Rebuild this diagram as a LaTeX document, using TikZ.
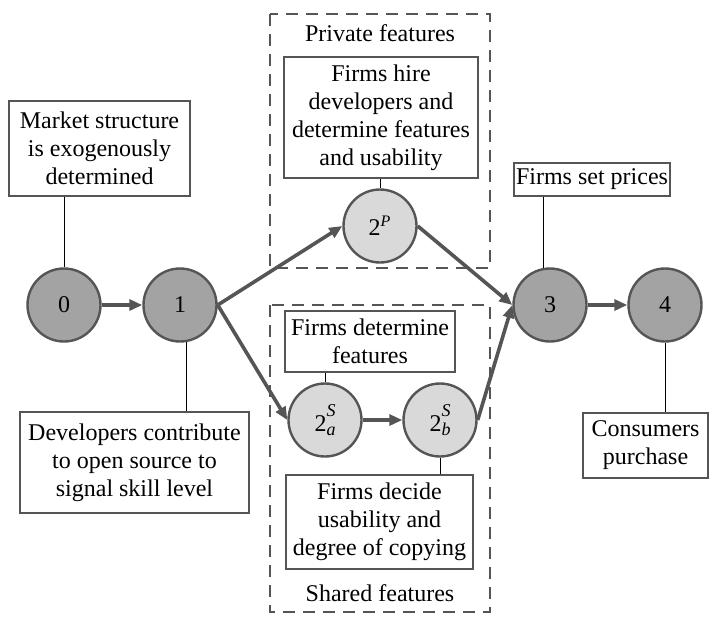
\documentclass[tikz,border=0pt]{standalone}
\usepackage{fontspec}
\setmainfont{Liberation Serif}
\usetikzlibrary{arrows.meta}
\definecolor{stagedark}{RGB}{163,163,163}
\definecolor{stagelight}{RGB}{217,217,217}
\definecolor{rim}{RGB}{85,85,85}
\newcommand{\substep}[2]{2\rlap{\raisebox{7.5pt}{\fontsize{9}{9}\selectfont\textit{#1}}}\raisebox{-2pt}{\fontsize{9}{9}\selectfont\textit{#2}}}
\tikzset{
  stage/.style={circle, draw=rim, line width=1.2pt, fill=stagedark, minimum size=36.5pt, inner sep=0pt},
  substage/.style={stage, fill=stagelight},
  note/.style={draw=rim, line width=0.9pt, fill=white, align=center, inner sep=0pt},
  phase/.style={draw=rim, line width=1pt, dash pattern=on 6pt off 4pt},
  move/.style={draw=rim, line width=1.8pt, -{Triangle[length=6.5pt,width=5.5pt]}},
  tie/.style={draw=black, line width=0.5pt}
}
\begin{document}
\begin{tikzpicture}[x=0.5pt, y=-0.5pt, font=\fontsize{12}{14}\selectfont]
        \useasboundingbox (0,0) rectangle (722,638);
        % phases
        \draw[phase] (270,14) rectangle (490,268);
        \draw[phase] (270,305) rectangle (490,612);
        \node (privlabel) at (380,33) {Private features};
        \node (sharedlabel) at (380,593) {Shared features};
        % stages
        \node[stage] (s0) at (64,305) {0};
        \node[stage] (s1) at (180,305) {1};
        \node[substage] (sp) at (380,226) {2\textsuperscript{\textit{P}}};
        \node[substage] (sa) at (325,420) {\substep{S}{a}};
        \node[substage] (sb) at (440,420) {\substep{S}{b}};
        \node[stage] (s3) at (550,305) {3};
        \node[stage] (s4) at (665,305) {4};
        % notes
        \node[note, minimum width=90.5pt, minimum height=47.5pt] (market) at (99.5,148.5) {Market structure\\is exogenously\\determined};
        \node[note, minimum width=114.5pt, minimum height=50.5pt] (dev) at (134.5,462.5) {Developers contribute\\to open source to\\signal skill level};
        \node[note, minimum width=97pt, minimum height=60.5pt] (hire) at (381,117.5) {Firms hire\\developers and\\determine features\\and usability};
        \node[note, minimum width=85pt, minimum height=30.5pt] (det) at (370,341.5) {Firms determine\\features};
        \node[note, minimum width=93.5pt, minimum height=47pt] (dec) at (379.5,522) {Firms decide\\usability and\\degree of copying};
        \node[note, minimum width=78pt, minimum height=16.5pt] (prices) at (592,179.5) {Firms set prices};
        \node[note, minimum width=62.5pt, minimum height=32.5pt] (cons) at (645.5,445.5) {Consumers\\purchase};
        % ties
        \draw[tie] (s0.north |- market.south) -- (s0.north);
        \draw[tie] (s1.-80) -- (s1.-80 |- dev.north);
        \draw[tie] (sp.north) -- (sp.north |- hire.south);
        \draw[tie] (sa.north) -- (sa.north |- det.south);
        \draw[tie] (sb.south) -- (sb.south |- dec.north);
        \draw[tie] (s3.100) -- (s3.100 |- prices.south);
        \draw[tie] (s4.south) -- (s4.south |- cons.north);
        % moves
        \draw[move] (s0) -- (s1);
        \draw[move] (s1.east) -- (sp.west);
        \draw[move] (s1.east) -- (sa.west);
        \draw[move] (sa) -- (sb);
        \draw[move] (sp.east) -- (s3.west);
        \draw[move] (sb.east) -- (s3.west);
        \draw[move] (s3) -- (s4);
      \end{tikzpicture}
\end{document}
